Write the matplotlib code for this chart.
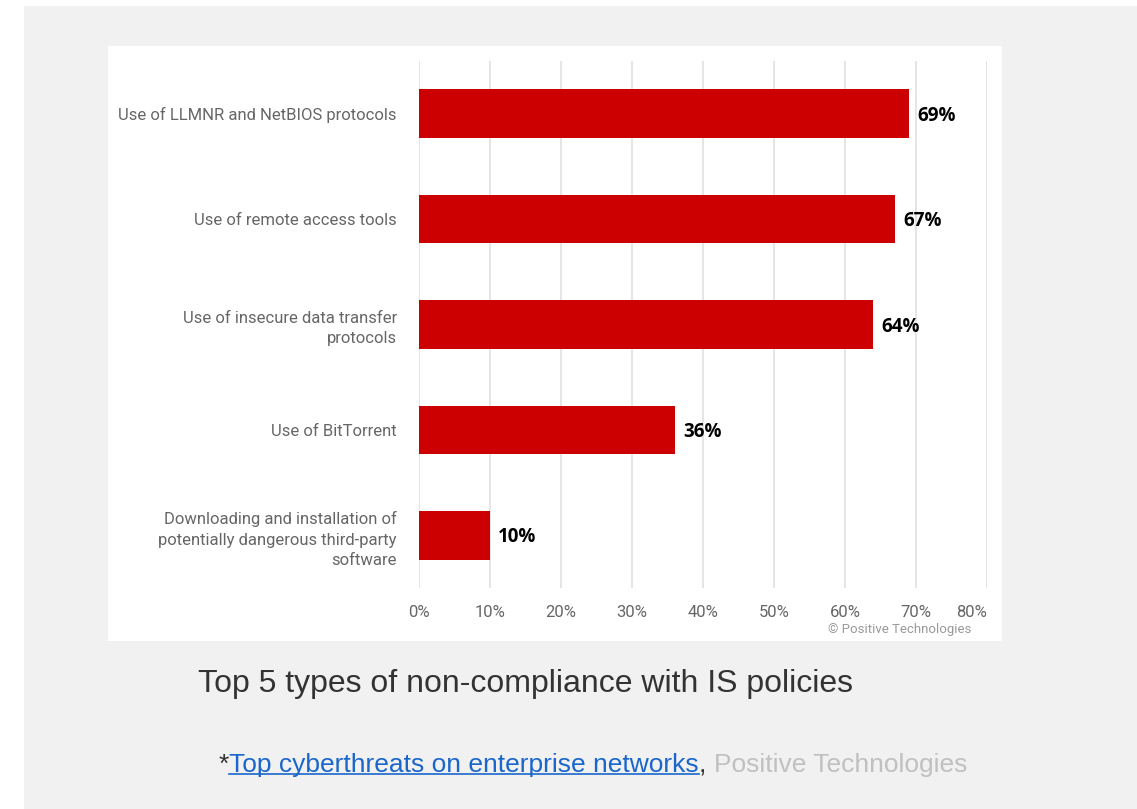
import matplotlib
matplotlib.use('Agg')
import matplotlib.pyplot as plt
from matplotlib.patches import Rectangle
from matplotlib.lines import Line2D

categories = [
    'Use of LLMNR and NetBIOS protocols',
    'Use of remote access tools',
    'Use of insecure data transfer\nprotocols',
    'Use of BitTorrent',
    'Downloading and installation of\npotentially dangerous third-party\nsoftware',
]
values = [69, 67, 64, 36, 10]
xticks = [0, 10, 20, 30, 40, 50, 60, 70, 80]
xtick_labels = [f'{t}%' for t in xticks]

title = 'Top 5 types of non-compliance with IS policies'
src_star = '*'
src_link = 'Top cyberthreats on enterprise networks'
src_comma = ', '
src_org = 'Positive Technologies'

W, H = 1137, 809
fig = plt.figure(figsize=(W / 100, H / 100), dpi=100)
fig.patch.set_facecolor('white')

def px_rect(x0, y0, x1, y1, color):
    # rectangle in figure pixel coords (y from top)
    fig.patches.append(Rectangle((x0 / W, 1 - y1 / H), (x1 - x0) / W, (y1 - y0) / H,
                                 transform=fig.transFigure, facecolor=color,
                                 edgecolor='none', zorder=-10))

px_rect(24, 6, W, H, '#f1f1f1')
px_rect(108, 46, 1002, 641, 'white')

ax = fig.add_axes([419 / W, 1 - 588 / H, (987 - 419) / W, (588 - 61) / H])
ax.set_facecolor('none')
ypos = list(range(len(categories)))
ax.barh(ypos, values, height=0.46, color='#cc0000', zorder=3)
ax.set_ylim(len(categories) - 0.5, -0.5)
ax.set_xlim(0, 80)
ax.set_yticks(ypos)
ax.set_yticklabels(categories, fontsize=12, color='#666666', family='Roboto',
                   linespacing=1.45)
ax.set_xticks(xticks)
ax.set_xticklabels(xtick_labels, fontsize=12, color='#666666', family='Roboto')
ax.get_xticklabels()[-1].set_horizontalalignment('right')
ax.tick_params(axis='both', length=0)
ax.tick_params(axis='y', pad=16)
ax.tick_params(axis='x', pad=12)
ax.grid(axis='x', color='#e3e3e3', linewidth=1.3, zorder=0)
for s in ax.spines.values():
    s.set_visible(False)

for y, v in zip(ypos, values):
    ax.annotate(f'{v}%', (v, y), xytext=(6, -1.5), textcoords='offset points',
                ha='left', va='center', fontsize=13.5, fontweight='bold',
                family='Open Sans', color='black')

fig.text(971 / W, 1 - 629 / H, '© Positive Technologies', ha='right', va='center',
         fontsize=9.5, color='#999999', family='Roboto')

fig.text(526 / W, 1 - 684 / H, title, ha='center', va='center', fontsize=23,
         color='#333333', family='Liberation Sans')

# source line, drawn piece by piece
fig.canvas.draw()
renderer = fig.canvas.get_renderer()
x = 219
yb = 1 - 772 / H
pieces = [(src_star, '#333333'), (src_link, '#1a66cc'), (src_comma, '#333333'),
          (src_org, '#c0c0c0')]
for txt, col in pieces:
    t = fig.text(x / W, yb, txt, ha='left', va='baseline', fontsize=19, color=col,
                 family='Liberation Sans')
    bb = t.get_window_extent(renderer)
    if txt == src_link:
        uy = 1 - 774 / H
        fig.lines.append(Line2D([bb.x0 / W, bb.x1 / W], [uy, uy], color=col,
                                linewidth=1.2, transform=fig.transFigure))
    x = bb.x1

fig.savefig('out.png', dpi=100)
